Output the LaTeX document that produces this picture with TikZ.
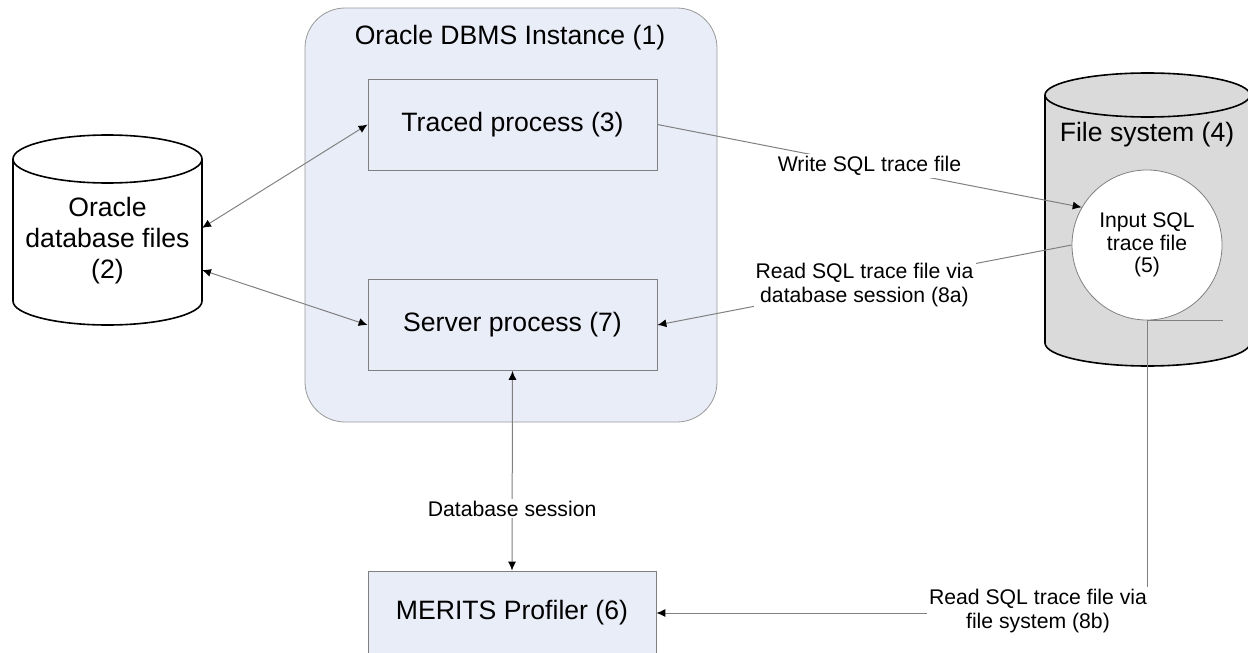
\documentclass[tikz,border=0pt]{standalone}
\usepackage{fontspec}
\setmainfont{Liberation Sans}
\usetikzlibrary{arrows.meta}

\definecolor{instblue}{HTML}{E9EDF7}
\definecolor{linegray}{HTML}{808080}
\definecolor{fsgray}{HTML}{DADADA}

\begin{document}
\begin{tikzpicture}[x=0.5pt,y=-0.5pt,
    big/.style={font=\fontsize{13.3}{15.5}\selectfont},
    small/.style={font=\fontsize{10.6}{12.2}\selectfont},
    procbox/.style={draw=linegray, fill=instblue, minimum width=144.5pt, minimum height=45.5pt, inner sep=0pt, big},
    link/.style={draw=linegray, line width=0.5pt},
    onetip/.style={-{Latex[color=black,length=4.5pt,width=4pt]}},
    bothtips/.style={{Latex[color=black,length=4.5pt,width=4pt]}-{Latex[color=black,length=4.5pt,width=4pt]}},
    lbl/.style={small, fill=white, inner sep=1pt, align=center}]
    \useasboundingbox (0,0) rectangle (1248,653);

    % Oracle instance
    \node[draw=linegray!80, fill=instblue, rounded corners=20pt, minimum width=206pt, minimum height=207pt] (dbms) at (511,215) {};
    \node[big] (dbmstitle) at (510,38) {Oracle DBMS Instance (1)};

    % Processes
    \node[procbox] (traced) at (512.5,124.5) {Traced process (3)};
    \node[procbox] (server) at (512.5,325) {Server process (7)};
    \node[procbox, minimum width=144pt, minimum height=42pt] (merits) at (512,613) {MERITS Profiler (6)};

    % Database files (left cylinder)
    \draw[fill=white, line width=0.8pt] (13,159) -- (13,301) arc (180:0:94.5 and 24) -- (202,159);
    \draw[fill=white, line width=0.8pt] (107.5,159) ellipse (94.5 and 24);
    \node[big, align=center] (dbfiles) at (107.5,241) {Oracle\\database files\\(2)};
    \coordinate (dbtop) at (202,228);
    \coordinate (dbbot) at (202,270);

    % File system (right cylinder)
    \draw[fill=fsgray, line width=0.8pt] (1045,95) -- (1045,343) arc (180:0:102.5 and 23) -- (1250,95);
    \draw[fill=fsgray, line width=0.8pt] (1147.5,95) ellipse (102.5 and 22);
    \node[big] (fs) at (1147,135) {File system (4)};
    \node[circle, draw=linegray, fill=white, minimum size=75pt, align=center, font=\fontsize{10.6}{11.2}\selectfont] (sqlfile) at (1147,245) {Input SQL\\trace file\\(5)};

    % Connectors
    \draw[link, bothtips] (dbtop) -- (traced.west);
    \draw[link, bothtips] (dbbot) -- (server.west);
    \draw[link, onetip] (traced.east) -- node[lbl] (write) {Write SQL trace file} (sqlfile.150);
    \draw[link, onetip] (sqlfile.west) -- node[lbl] (read8a) {Read SQL trace file via\\database session (8a)} (server.east);
    \draw[link, bothtips] (server.south) -- node[lbl, pos=0.69] (session) {Database session} (merits.north);

    % Read via file system
    \node[lbl] (read8b) at (1038,611) {Read SQL trace file via\\file system (8b)};
    \draw[link] (sqlfile.south) -- (sqlfile.south |- read8b.north);
    \draw[link] (sqlfile.south) -- ++(76,0);
    \draw[link, onetip] (read8b.west |- merits.east) -- (merits.east);
\end{tikzpicture}
\end{document}
